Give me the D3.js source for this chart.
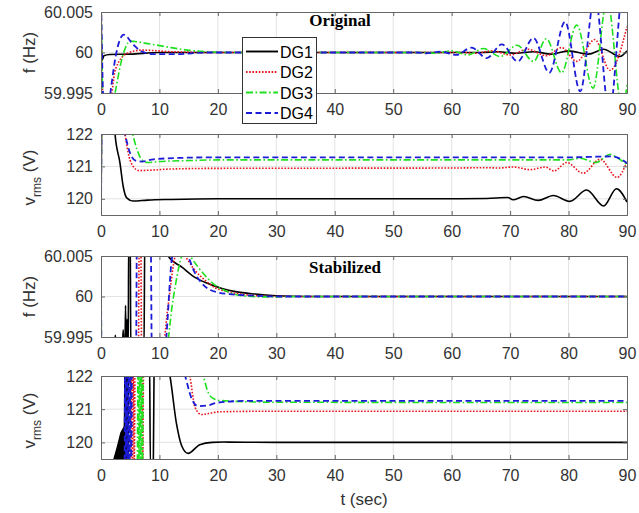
<!DOCTYPE html>
<html><head><meta charset="utf-8">
<script src="https://cdn.jsdelivr.net/npm/d3@7"></script>
<style>body{margin:0;background:#fff}svg{display:block}</style>
</head><body>
<script>
// ---------------- DATA ----------------
const seriesNames = ["DG1", "DG2", "DG3", "DG4"];
const tTicks = [0, 10, 20, 30, 40, 50, 60, 70, 80, 90];
const fTicks = [59.995, 60, 60.005];
const fTickLabels = ["59.995", "60", "60.005"];
const vTicks = [120, 121, 122];
const vTickLabels = ["120", "121", "122"];
const panelTitles = ["Original", "", "Stabilized", ""];
const tDomain = [0, 90];
const fDomain = [59.995, 60.005];
const vDomain = [119.5, 122];

// Panel 1: frequency, original
const origF_DG1 = [[0,60.0017],[0.2,59.9991],[0.5,59.9996],[1.5,59.99975],[5,59.9998],[10,60],[50,60],[65,60],[68,60.0001],[71,59.9999],[74,60.0001],[77,59.9998],[80,60.0002],[83.4,59.9998],[86,60.0004],[88.8,59.9995],[90,60.0002]];
const origF_DG2 = [[0,60.007],[0.4,59.993],[1.3,59.993],[2.5,59.998],[4.5,59.9999],[7,60.0003],[12,60.0001],[20,60],[62,60],[64,59.9999],[67,60.0002],[70,59.9997],[73,60.0004],[76.2,59.9996],[78.8,60.0006],[81.4,59.9989],[84.5,60.0016],[87.1,59.9978],[90,60.0032]];
const origF_DG3 = [[0,60.007],[0.4,59.993],[1.5,59.992],[2.4,59.995],[3.5,59.999],[5,60.0014],[8,60.0011],[12,60.0006],[16,60.0002],[22,60],[55,60],[57.3,59.9999],[60,60.0002],[62.8,59.9997],[65.4,60.0005],[68.3,59.9995],[71.2,60.0009],[74,59.9989],[76.2,60.0017],[78.8,59.9975],[81.4,60.0034],[84.2,59.9956],[86.6,60.0065],[89.2,59.993],[90,59.996]];
const origF_DG4 = [[0,60.007],[0.5,59.993],[1.2,59.993],[1.6,59.995],[2.5,59.9995],[3.9,60.0022],[5.5,60.001],[7,60.0001],[9,59.9998],[13,59.9998],[18,60],[54,60],[55.6,59.9999],[58.2,60.0001],[60.8,59.9997],[63.4,60.0006],[66,59.9993],[68.6,60.001],[71.3,59.9989],[74,60.0018],[76.7,59.9975],[79.4,60.0038],[82,59.9952],[84.5,60.007],[87,59.9925],[89.4,60.008],[90,60.006]];

// Panel 2: rms voltage, original
const origV_DG1 = [[0,119.3],[0.2,124],[2,123],[2.4,122],[3.25,121.1],[3.8,120.38],[4.4,120.03],[5.5,119.93],[8,119.96],[12,119.98],[20,120],[60,120],[66,120.01],[69.6,120.04],[70.5,119.97],[72.3,120.07],[74.8,119.95],[77.4,120.1],[80.2,119.92],[83.1,120.27],[86,119.78],[88.2,120.31],[90,119.9]];
const origV_DG2 = [[0,119.3],[0.2,124],[3,123],[4.1,122],[4.8,121.3],[5.5,121.0],[6.5,120.87],[8,120.88],[12,120.92],[20,120.94],[60,120.95],[66,120.96],[68,120.95],[70.5,120.98],[73.5,120.9],[76,120.98],[77.5,120.86],[79.7,121.12],[82.5,120.79],[85.4,121.22],[88.3,120.66],[90,121.15]];
const origV_DG3 = [[0,119.3],[0.2,124],[4,123],[5.4,122],[6.2,121.5],[7,121.2],[8,121.12],[10,121.15],[15,121.18],[20,121.2],[80,121.2],[82,121.25],[84.7,121.12],[87.1,121.37],[88.5,121.25],[90,121.05]];
const origV_DG4 = [[0,119.3],[0.2,124],[3,123],[4.1,122],[5,121.4],[6,121.17],[7,121.15],[9,121.22],[15,121.27],[20,121.28],[80,121.28],[85,121.3],[87.5,121.31],[89,121.22],[90,121.1]];

// Panel 3: frequency, stabilized
const stabF_DG1 = [[0,59.993],[2.2,59.993],[2.45,59.9952],[2.7,59.993],[3.6,59.993],[3.8,59.9959],[3.95,59.993],[4.1,59.993],[4.2,59.9989],[4.3,59.993],[4.38,59.993],[4.45,59.9972],[4.55,59.993],[4.65,59.993],[4.75,60.008],[5.0,60.008],[5.1,59.993],[7.35,59.993],[7.5,60.008],[10.5,60.008],[11.5,60.005],[13.9,60.0036],[16,60.0024],[18.3,60.0016],[20.7,60.001],[23,60.0006],[26.4,60.0003],[30,60.0001],[35,60],[90,60]];
const stabF_DG2 = [[0,59.993],[6.4,59.993],[6.55,60.008],[6.8,60.008],[6.95,59.993],[10.4,59.993],[11.5,59.999],[12.7,60.005],[13.5,60.006],[14.4,60.005],[16,60.0033],[17.8,60.002],[19.5,60.0011],[21.7,60.0006],[25,60.0002],[30,60],[90,60]];
const stabF_DG3 = [[0,60.0018],[0.1,59.993],[11,59.993],[12.3,59.9995],[13.8,60.005],[14.5,60.006],[15.3,60.005],[17.8,60.0026],[19.5,60.0014],[21.7,60.0006],[24,60.0001],[28,59.99995],[35,60],[90,60]];
const stabF_DG4 = [[0,60.0018],[0.1,59.993],[6.0,59.993],[6.15,60.008],[8.5,60.008],[8.7,59.993],[10.8,59.993],[12.2,60.005],[13.5,60.007],[14.9,60.005],[16,60.003],[17.3,60.0016],[18.7,60.0008],[20,60.0005],[22,60.0003],[26,60.0001],[30,60],[90,60]];

// Panel 4: rms voltage, stabilized
const stabV_DG1_burst = [[2.1,119.5],[2.7,119.88],[3.3,120.3],[3.9,120.49],[4.05,122.2],[4.8,122.2],[4.85,119.5]];
const stabV_DG1 = [[0,119.3],[4.0,119.3],[4.1,122.6],[8.3,122.6],[8.45,119.3],[8.95,119.3],[9.1,122.6],[10.5,122.8],[11.8,122],[12.9,120.58],[13.8,119.9],[14.9,119.67],[16.9,119.93],[19,120.0],[21,120.01],[30,120],[90,120]];
const stabV_DG2 = [[0,119.3],[5.1,119.3],[5.25,122.6],[5.4,119.4],[5.55,122.6],[5.7,119.4],[5.85,122.6],[7.0,122.6],[7.15,119.4],[7.3,122.6],[14,122.8],[15.2,122],[16.1,121.05],[17.2,120.84],[18.5,120.87],[20,120.92],[30,120.94],[90,120.94]];
const stabV_DG3 = [[0,119.3],[6.2,119.3],[6.35,122.6],[6.5,119.4],[6.65,122.6],[6.8,119.4],[6.95,122.6],[7.1,119.4],[7.25,122.6],[16,122.8],[17.5,122],[18.3,121.52],[19.2,121.32],[20.5,121.26],[30,121.21],[90,121.2]];
const stabV_DG4 = [[0,119.3],[4.0,119.3],[4.15,122.6],[4.3,119.4],[4.45,122.6],[4.6,119.4],[4.75,122.6],[4.9,119.4],[5.05,122.6],[5.2,119.4],[5.3,122.6],[13,122.8],[14.4,122],[15.5,121.32],[16.6,121.09],[18.4,121.12],[20,121.2],[25,121.25],[90,121.25]];

// ---------------- STYLE / LAYOUT ----------------
const W = 639, H = 513;
const styles = {
  DG1: {color: "#000000", dash: null, width: 1.6},
  DG2: {color: "#e8141c", dash: "1.6,1.6", width: 1.6},
  DG3: {color: "#1ee01e", dash: "7,2.5,1.6,2.5", width: 1.6},
  DG4: {color: "#1c1cd6", dash: "6,3.5", width: 1.8}
};
const panels = [
  {top: 12, bottom: 93, domain: fDomain, ticks: fTicks, labels: fTickLabels, ylabel: "f", hiddenX: [30],
   data: [origF_DG1, origF_DG2, origF_DG3, origF_DG4], title: panelTitles[0], titleX: 340, titleY: 26},
  {top: 134, bottom: 215, domain: vDomain, ticks: vTicks, labels: vTickLabels, ylabel: "v", hiddenX: [],
   data: [origV_DG1, origV_DG2, origV_DG3, origV_DG4], title: panelTitles[1]},
  {top: 256, bottom: 337, domain: fDomain, ticks: fTicks, labels: fTickLabels, ylabel: "f", hiddenX: [],
   data: [stabF_DG1, stabF_DG2, stabF_DG3, stabF_DG4], title: panelTitles[2], titleX: 345, titleY: 273},
  {top: 376, bottom: 459, domain: vDomain, ticks: vTicks, labels: vTickLabels, ylabel: "v", hiddenX: [],
   data: [stabV_DG1, stabV_DG2, stabV_DG3, stabV_DG4], title: panelTitles[3], burst: stabV_DG1_burst}
];
const left = 101, right = 627;
const sansFont = "Arial, 'Liberation Sans', Helvetica, sans-serif";
const tickColor = "#333333";
const axisColor = "#666666";
const gridColor = "#e3e3e3";

const svg = d3.select("body").append("svg").attr("width", W).attr("height", H)
  .style("font-family", sansFont);
svg.append("rect").attr("width", W).attr("height", H).attr("fill", "#fff");

const x = d3.scaleLinear().domain(tDomain).range([left, right]);

panels.forEach((p, pi) => {
  const y = d3.scaleLinear().domain(p.domain).range([p.bottom, p.top]);
  const g = svg.append("g");
  const clipId = "clip" + pi;
  g.append("clipPath").attr("id", clipId).append("rect")
    .attr("x", left).attr("y", p.top).attr("width", right - left).attr("height", p.bottom - p.top);

  // grid
  g.selectAll(".vg").data(tTicks.slice(1, -1)).join("line")
    .attr("x1", d => x(d)).attr("x2", d => x(d)).attr("y1", p.top).attr("y2", p.bottom)
    .attr("stroke", gridColor).attr("stroke-width", 1);
  const hgrid = p.ticks.filter(d => d > p.domain[0] && d < p.domain[1]);
  g.selectAll(".hg").data(hgrid).join("line")
    .attr("x1", left).attr("x2", right).attr("y1", d => y(d)).attr("y2", d => y(d))
    .attr("stroke", gridColor).attr("stroke-width", 1);

  const lines = g.append("g").attr("clip-path", `url(#${clipId})`);
  const lineGen = d3.line().x(d => x(d[0])).y(d => y(d[1])).curve(d3.curveMonotoneX);
  if (p.burst) {
    const areaGen = d3.area().x(d => x(d[0])).y0(y(p.domain[0]) + 2).y1(d => y(d[1])).curve(d3.curveLinear);
    lines.append("path").datum(p.burst).attr("d", areaGen).attr("fill", "#000");
  }
  p.data.forEach((ser, si) => {
    const st = styles[seriesNames[si]];
    lines.append("path").datum(ser).attr("d", lineGen)
      .attr("fill", "none").attr("stroke", st.color).attr("stroke-width", st.width)
      .attr("stroke-dasharray", st.dash);
  });

  // axes with d3 axis generators
  const xAxis = d3.axisBottom(x).tickValues(tTicks).tickSize(-4).tickPadding(12)
    .tickFormat(d => p.hiddenX.includes(d) ? "" : d3.format("d")(d));
  const gx = g.append("g").attr("transform", `translate(0,${p.bottom})`).call(xAxis);
  const xTop = d3.axisTop(x).tickValues(tTicks).tickSize(-4).tickFormat("");
  const gxt = g.append("g").attr("transform", `translate(0,${p.top})`).call(xTop);
  const yAxis = d3.axisLeft(y).tickValues(p.ticks).tickSize(-4).tickPadding(8).tickFormat((d, i) => p.labels[i]);
  const gy = g.append("g").attr("transform", `translate(${left},0)`).call(yAxis);
  const yRight = d3.axisRight(y).tickValues(p.ticks).tickSize(-4).tickFormat("");
  const gyr = g.append("g").attr("transform", `translate(${right},0)`).call(yRight);
  [gx, gxt, gy, gyr].forEach(a => {
    a.select(".domain").attr("stroke", axisColor).attr("stroke-width", 1);
    a.selectAll(".tick line").attr("stroke", axisColor);
    a.selectAll(".tick text").attr("fill", tickColor).style("font-size", "16px").style("font-family", sansFont);
  });
  gx.selectAll(".tick text").attr("dy", "0.71em").attr("y", 11);

  // y label
  const cy = (p.top + p.bottom) / 2 + (p.ylabel === "v" ? 3 : 0);
  const lab = g.append("text").attr("transform", `translate(35,${cy}) rotate(-90)`)
    .attr("text-anchor", "middle").attr("fill", tickColor).style("font-size", "17px");
  if (p.ylabel === "f") {
    lab.text("f (Hz)");
  } else {
    lab.append("tspan").text("v");
    lab.append("tspan").attr("dy", 6).style("font-size", "12px").text("rms");
    lab.append("tspan").attr("dy", -6).text(" (V)");
  }

  if (p.title) {
    g.append("text").attr("x", p.titleX).attr("y", p.titleY).attr("text-anchor", "middle")
      .style("font-family", "'Liberation Serif', 'Times New Roman', serif").style("font-weight", "bold")
      .style("font-size", "17px").attr("fill", "#000").text(p.title);
  }
});

// x axis label
svg.append("text").attr("x", (left + right) / 2).attr("y", 505).attr("text-anchor", "middle")
  .attr("fill", tickColor).style("font-size", "17px").text("t (sec)");

// legend
const lg = svg.append("g");
lg.append("rect").attr("x", 242.5).attr("y", 37.5).attr("width", 74).attr("height", 86)
  .attr("fill", "#fff").attr("stroke", "#333").attr("stroke-width", 1);
const legendRows = [51.5, 72, 92.5, 113];
seriesNames.forEach((n, i) => {
  const st = styles[n];
  lg.append("line").attr("x1", 246).attr("x2", 278).attr("y1", legendRows[i]).attr("y2", legendRows[i])
    .attr("stroke", st.color).attr("stroke-width", st.width + 0.3).attr("stroke-dasharray", st.dash);
  lg.append("text").attr("x", 280).attr("y", legendRows[i] + 6).attr("fill", "#000")
    .style("font-size", "16px").text(n);
});
</script>
</body></html>
